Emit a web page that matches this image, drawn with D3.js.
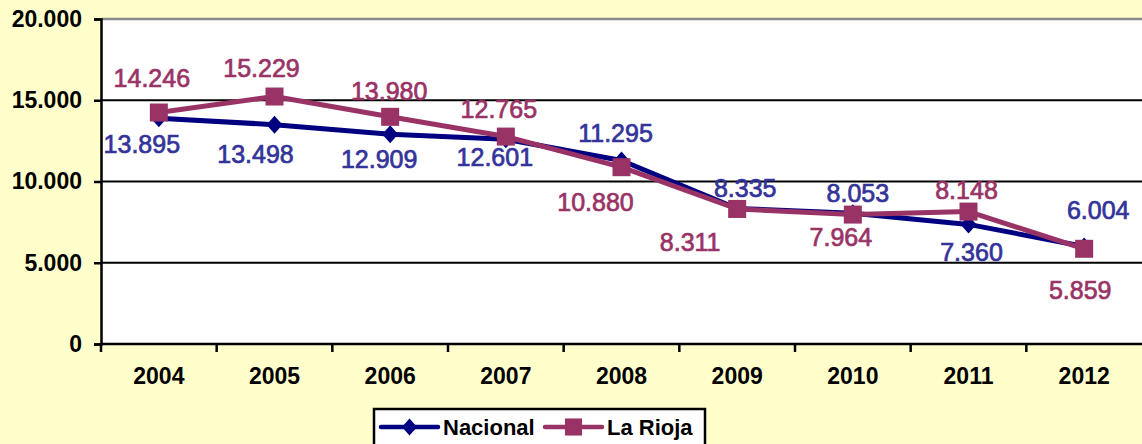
<!DOCTYPE html>
<html>
<head>
<meta charset="utf-8">
<script src="https://cdn.jsdelivr.net/npm/d3@7"></script>
<style>
  html, body { margin: 0; padding: 0; background: #FFFFCC; }
  svg { display: block; font-family: "Liberation Sans", Arial, Helvetica, sans-serif; }
</style>
</head>
<body>
<svg id="chart" width="1142" height="444"></svg>
<script>
// Series data
const years = ["2004", "2005", "2006", "2007", "2008", "2009", "2010", "2011", "2012"];
const nacional = [13895, 13498, 12909, 12601, 11295, 8335, 8053, 7360, 6004];
const laRioja = [14246, 15229, 13980, 12765, 10880, 8311, 7964, 8148, 5859];
const yTicks = [0, 5000, 10000, 15000, 20000];
const seriesNames = ["Nacional", "La Rioja"];

// Hand-placed label offsets (dx, dy of label centre relative to its point)
const nacionalLabelOffsets = [[-17, 26], [-19, 29], [-11, 25], [-11, 18], [-6, -27], [8, -21], [5, -20], [3, 28], [14, -36]];
const laRiojaLabelOffsets = [[-7, -35], [-13, -29], [-1, -26], [-7, -28], [-26, 35], [-47, 33], [-12, 22], [-2, -22], [-4, 41]];

const svg = d3.select("#chart");
const W = 1142, H = 444;
const plot = { left: 101, right: 1142, top: 19, bottom: 344 };

const fmt = v => d3.format(",")(v).replace(/,/g, ".");

const x = d3.scaleBand().domain(years).range([plot.left, plot.right]).padding(0);
const xc = d => x(d) + x.bandwidth() / 2;
const y = d3.scaleLinear().domain([0, 20000]).range([plot.bottom, plot.top]);

// Background and plot area
svg.append("rect").attr("width", W).attr("height", H).attr("fill", "#FFFFCC");
svg.append("rect")
  .attr("x", plot.left).attr("y", plot.top)
  .attr("width", plot.right - plot.left).attr("height", plot.bottom - plot.top)
  .attr("fill", "#ffffff");

// Horizontal gridlines
svg.append("g").selectAll("line")
  .data(yTicks.filter(t => t > 0))
  .join("line")
  .attr("x1", plot.left).attr("x2", plot.right)
  .attr("y1", d => y(d)).attr("y2", d => y(d))
  .attr("stroke", d => d === 20000 ? "#888888" : "#000000")
  .attr("stroke-width", d => d === 20000 ? 2.5 : 2.2);

// Y axis
const yAxis = svg.append("g")
  .attr("transform", `translate(${plot.left},0)`)
  .call(d3.axisLeft(y).tickValues(yTicks).tickFormat(fmt).tickSize(7).tickPadding(12));
yAxis.select(".domain").attr("stroke", "#000").attr("stroke-width", 2.5);
yAxis.selectAll(".tick line").attr("stroke", "#000").attr("stroke-width", 2.5);
yAxis.selectAll(".tick text")
  .attr("fill", "#000").attr("font-size", 23).attr("font-weight", "bold")
  .attr("font-family", "Liberation Sans, Arial, sans-serif");

// X axis baseline, category-boundary ticks and year labels
const xAxis = svg.append("g")
  .attr("transform", `translate(0,${plot.bottom})`)
  .call(d3.axisBottom(x).tickSize(0).tickPadding(24));
xAxis.select(".domain").remove();
xAxis.selectAll(".tick text")
  .attr("fill", "#000").attr("font-size", 23).attr("font-weight", "bold")
  .attr("font-family", "Liberation Sans, Arial, sans-serif");
svg.append("line")
  .attr("x1", plot.left).attr("x2", plot.right)
  .attr("y1", plot.bottom).attr("y2", plot.bottom)
  .attr("stroke", "#000").attr("stroke-width", 2.5);
svg.append("g").selectAll("line")
  .data(years)
  .join("line")
  .attr("x1", d => x(d)).attr("x2", d => x(d))
  .attr("y1", plot.bottom).attr("y2", plot.bottom + 8)
  .attr("stroke", "#000").attr("stroke-width", 2.5);

const line = d3.line().x((d, i) => xc(years[i])).y(d => y(d));

const series = [
  { name: seriesNames[0], values: nacional, color: "#000080", labelColor: "#333399", marker: "diamond", offsets: nacionalLabelOffsets },
  { name: seriesNames[1], values: laRioja, color: "#993366", labelColor: "#993366", marker: "square", offsets: laRiojaLabelOffsets }
];

function drawMarker(g, type, cx, cy, color, scale) {
  if (type === "diamond") {
    const w = 8 * scale, h = 9 * scale;
    g.append("path")
      .attr("d", `M${cx},${cy - h}L${cx + w},${cy}L${cx},${cy + h}L${cx - w},${cy}Z`)
      .attr("fill", color);
  } else {
    const s = 18 * scale;
    g.append("rect")
      .attr("x", cx - s / 2).attr("y", cy - s / 2)
      .attr("width", s).attr("height", s)
      .attr("fill", color);
  }
}

// Lines and markers
series.forEach(s => {
  const g = svg.append("g");
  g.append("path")
    .datum(s.values)
    .attr("d", line)
    .attr("fill", "none")
    .attr("stroke", s.color)
    .attr("stroke-width", 5)
    .attr("stroke-linejoin", "round");
  s.values.forEach((v, i) => drawMarker(g, s.marker, xc(years[i]), y(v), s.color, 1));
});

// Value labels
series.forEach(s => {
  svg.append("g").selectAll("text")
    .data(s.values)
    .join("text")
    .attr("x", (d, i) => xc(years[i]) + s.offsets[i][0])
    .attr("y", (d, i) => y(d) + s.offsets[i][1])
    .attr("text-anchor", "middle")
    .attr("dominant-baseline", "central")
    .attr("fill", s.labelColor)
    .attr("stroke", s.labelColor)
    .attr("stroke-width", 0.7)
    .attr("font-size", 25)
    .text(fmt);
});

// Legend
const legend = svg.append("g");
legend.append("rect")
  .attr("x", 374).attr("y", 409)
  .attr("width", 331).attr("height", 50)
  .attr("fill", "#ffffff").attr("stroke", "#000").attr("stroke-width", 2.5);
const legendItems = [
  { s: series[0], x0: 381, textX: 443 },
  { s: series[1], x0: 545, textX: 607 }
];
legendItems.forEach(it => {
  const cy = 427;
  legend.append("line")
    .attr("x1", it.x0).attr("x2", it.x0 + 57)
    .attr("y1", cy).attr("y2", cy)
    .attr("stroke", it.s.color).attr("stroke-width", 4.5)
    .attr("stroke-linecap", "round");
  drawMarker(legend, it.s.marker, it.x0 + 28.5, cy, it.s.color, 0.95);
  legend.append("text")
    .attr("x", it.textX).attr("y", cy)
    .attr("dominant-baseline", "central")
    .attr("font-size", 22).attr("font-weight", "bold")
    .attr("fill", "#000")
    .text(it.s.name);
});
</script>
</body>
</html>
